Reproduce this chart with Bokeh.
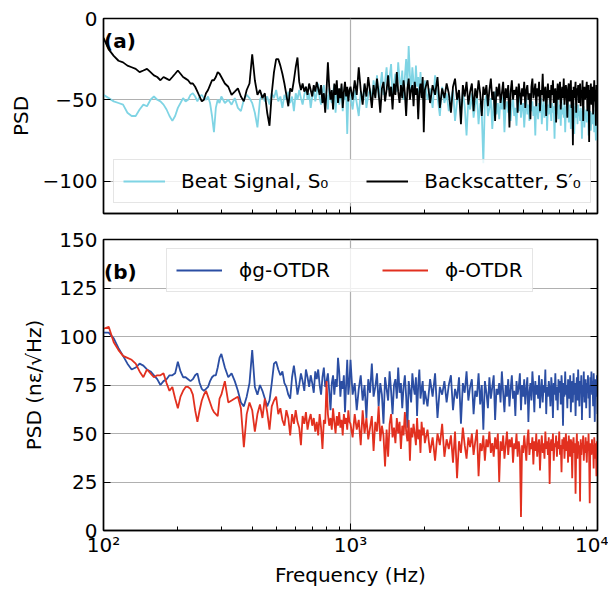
import numpy as np
from bokeh.plotting import figure
from bokeh.layouts import column
from bokeh.models import Range1d, LinearAxis, Legend, LegendItem, Label, FixedTicker
from bokeh.embed import file_html
from bokeh.resources import INLINE

FONT = "DejaVu Sans"

# FFT bin grid, by segment: start (Hz) and bin step (Hz)
seg_starts = [100, 300, 1000, 2000]
seg_steps = [5, 10, 20, 50]

# ---- (a) Beat signal S0 (dB) ----
beat_s1 = [-47, -49, -51, -52, -53, -58, -60, -60, -56, -53, -54, -50, -48, -50, -51, -53, -56, -60, -63, -60,
           -55, -52, -49, -51, -50, -47, -46, -48, -51, -48, -47, -49, -50, -48, -52, -60, -70, -55, -50, -52]
beat_s2 = [-48, -52, -50, -53, -49, -55, -57, -50, -47, -49,
           -52, -58, -67, -50, -47, -51, -48, -53, -46, -49,
           -44, -51, -48, -55, -47, -50, -45, -52, -48, -57,
           -46, -50, -44, -49, -53, -47, -42, -50, -46, -55,
           -48, -43, -51, -46, -40, -49, -53, -45, -41, -50,
           -47, -56, -43, -49, -52, -45, -41, -58, -47, -44,
           -53, -48, -42, -57, -46, -50, -44, -71, -48, -45]
beat_s3 = [-48, -56, -44, -52, -60, -45, -50, -41, -55, -47,
           -43, -51, -38, -46, -35, -49, -42, -33, -47, -39,
           -30, -44, -36, -28, -48, -40, -34, -45, -27, -38,
           -43, -32, -50, -36, -25, -41, -17, -35, -44, -30,
           -39, -47, -29, -42, -36, -48, -33, -45, -40, -52]
beat_s4 = [-38, -50, -43, -55, -35, -48, -60, -42, -52, -46,
           -57, -49, -44, -63, -51, -47, -58, -45, -54, -72,
           -50, -56, -46, -61, -53, -48, -65, -52, -58, -89,
           -51, -47, -60, -55, -49, -68, -53, -45, -59, -52,
           -62, -50, -56, -48, -70, -54, -51, -58, -46, -63,
           -53, -49, -60, -55, -66, -50, -57, -47, -61, -54,
           -52, -67, -56, -49, -59, -53, -63, -48, -57, -51,
           -60, -54, -72, -50, -56, -62, -52, -58, -49, -65,
           -55, -51, -61, -57, -48, -69, -53, -59, -50, -56,
           -63, -52, -58, -54, -74, -51, -60, -56, -49, -62,
           -57, -53, -66, -50, -59, -55, -61, -52, -70, -56,
           -54, -60, -51, -64, -57, -53, -68, -55, -59, -62,
           -52, -71, -58, -54, -61, -56, -65, -53, -60, -57,
           -63, -55, -59, -74, -57, -62, -54, -67, -58, -61,
           -56, -64, -60, -55, -72, -58, -62, -57, -69, -60,
           -58, -65, -61, -56, -70, -59, -63, -75, -60, -66,
           -62]

# ---- (a) Backscatter S0' (dB) ----
back_s1 = [-12, -19, -23, -26, -27, -29, -30, -31, -33, -32, -31, -33, -35, -36, -38, -36, -37, -38, -36, -34,
           -32, -34, -36, -37, -38, -40, -40, -42, -45, -48, -51, -50, -46, -44, -41, -38, -38, -36, -33, -34]
back_s2 = [-36, -40, -42, -47, -45, -43, -48, -51, -44, -40,
           -22, -38, -47, -44, -49, -46, -58, -66, -46, -33,
           -25, -25, -29, -34, -40, -47, -54, -43, -45, -38,
           -30, -24, -39, -44, -40, -45, -42, -47, -40, -44,
           -48, -41, -45, -39, -43, -47, -41, -52, -46, -58,
           -44, -27, -42, -50, -44, -56, -40, -47, -38, -52,
           -43, -49, -40, -55, -45, -39, -48, -42, -51, -44]
back_s3 = [-42, -50, -38, -47, -30, -44, -53, -40, -48, -36,
           -45, -55, -41, -49, -37, -46, -58, -43, -39, -51,
           -44, -35, -48, -42, -56, -40, -47, -33, -45, -52,
           -41, -49, -38, -46, -60, -43, -37, -50, -44, -41,
           -54, -39, -47, -43, -62, -45, -40, -49, -36, -70]
back_s4 = [-44, -38, -52, -41, -47, -36, -55, -43, -49, -40,
           -46, -58, -42, -37, -50, -44, -65, -41, -48, -39,
           -53, -45, -40, -57, -43, -49, -38, -46, -60, -42,
           -47, -41, -54, -44, -37, -50, -45, -63, -42, -48,
           -40, -52, -46, -39, -56, -43, -49, -41, -67, -45,
           -38, -50, -44, -47, -42, -58, -40, -46, -53, -43,
           -48, -39, -55, -44, -41, -50, -46, -62, -42, -37,
           -49, -45, -40, -54, -43, -48, -39, -57, -44, -47,
           -34, -51, -45, -42, -60, -46, -40, -49, -44, -55,
           -41, -47, -38, -52, -45, -43, -64, -48, -40, -50,
           -44, -39, -56, -46, -42, -49, -37, -53, -45, -41,
           -48, -61, -43, -40, -51, -46, -38, -55, -44, -78,
           -42, -49, -45, -39, -58, -43, -47, -41, -52, -46,
           -40, -54, -44, -48, -38, -63, -45, -42, -50, -47,
           -43, -39, -57, -46, -41, -76, -44, -49, -40, -53,
           -45, -42, -59, -47, -38, -51, -44, -66, -41, -48,
           -43]

# ---- (b) phi_g-OTDR (ne/sqrt(Hz)) ----
phig_s1 = [102, 102, 99, 94, 90, 86, 83, 84, 86, 85, 83, 82, 80, 78, 75, 77, 78, 80, 80, 81,
           87, 82, 79, 79, 78, 77, 78, 80, 81, 76, 73, 72, 73, 74, 77, 79, 80, 80, 84, 89]
phig_s2 = [91, 84, 79, 81, 77, 72, 66, 64, 69, 76,
           93, 74, 70, 75, 72, 68, 64, 67, 76, 86,
           87, 83, 80, 82, 76, 74, 70, 68, 79, 85,
           78, 70, 75, 81, 77, 72, 83, 79, 74, 80,
           76, 71, 82, 78, 83, 75, 70, 79, 84, 74,
           77, 81, 72, 62, 76, 80, 70, 78, 74, 89,
           82, 69, 77, 73, 80, 61, 75, 88, 70, 76]
phig_s3 = [88, 70, 76, 62, 73, 80, 67, 75, 58, 78,
           71, 86, 69, 74, 81, 64, 76, 70, 55, 79,
           73, 67, 82, 72, 60, 75, 78, 68, 84, 71,
           76, 63, 74, 80, 69, 53, 77, 72, 66, 81,
           74, 70, 79, 59, 75, 83, 68, 73, 77, 65]
phig_s4 = [72, 64, 78, 69, 81, 58, 74, 70, 77, 66,
           75, 80, 62, 73, 68, 79, 55, 76, 71, 82,
           67, 74, 78, 60, 72, 69, 81, 65, 75, 52,
           77, 71, 63, 79, 68, 74, 80, 57, 73, 70,
           76, 66, 82, 71, 61, 75, 69, 78, 64, 73,
           80, 68, 72, 59, 77, 70, 74, 81, 62, 75,
           69, 78, 65, 73, 79, 56, 71, 76, 67, 82,
           74, 61, 77, 70, 75, 68, 80, 63, 72, 78,
           66, 75, 71, 83, 60, 74, 69, 77, 72, 64,
           79, 73, 58, 76, 70, 81, 67, 74, 62, 78,
           71, 77, 65, 80, 73, 54, 76, 69, 82, 70,
           75, 63, 78, 72, 68, 80, 61, 74, 77, 66,
           81, 70, 76, 59, 73, 79, 67, 83, 71, 64,
           77, 72, 80, 57, 75, 69, 82, 66, 74, 78,
           63, 76, 71, 80, 68, 75, 58, 79, 73, 82,
           70, 77, 64, 81, 72, 56, 78, 74, 69, 80,
           60]

# ---- (b) phi-OTDR (ne/sqrt(Hz)) ----
phi_s1 = [104, 105, 97, 93, 90, 89, 88, 86, 82, 79, 83, 81, 79, 80, 80, 81, 76, 72, 74, 68,
          63, 69, 72, 74, 74, 73, 70, 62, 56, 62, 67, 70, 72, 69, 66, 63, 61, 60, 59, 68]
phi_s2 = [70, 77, 66, 67, 68, 69, 63, 43, 60, 66,
          62, 51, 60, 65, 58, 68, 61, 52, 64, 67,
          69, 60, 63, 57, 54, 62, 58, 49, 60, 55,
          62, 56, 53, 44, 59, 55, 61, 52, 57, 60,
          54, 58, 51, 56, 49, 60, 53, 42, 57, 55,
          77, 60, 54, 58, 52, 63, 56, 50, 59, 54,
          61, 53, 57, 49, 60, 55, 58, 52, 62, 56]
phi_s3 = [55, 48, 60, 52, 57, 44, 62, 50, 58, 47,
          53, 59, 41, 56, 51, 64, 46, 54, 49, 33,
          52, 38, 55, 60, 48, 53, 45, 58, 50, 56,
          42, 54, 49, 61, 51, 46, 57, 36, 53, 48,
          55, 50, 44, 58, 47, 52, 40, 56, 49, 53]
phi_s4 = [45, 52, 40, 48, 36, 50, 44, 55, 38, 47,
          42, 49, 35, 51, 27, 46, 40, 53, 44, 37,
          48, 43, 50, 39, 46, 52, 28, 45, 41, 49,
          36, 47, 43, 51, 40, 45, 38, 48, 42, 50,
          25, 46, 41, 49, 37, 44, 51, 39, 47, 43,
          48, 35, 45, 42, 50, 38, 46, 41, 7, 44,
          40, 49, 43, 36, 47, 52, 39, 45, 42, 48,
          34, 46, 41, 50, 38, 44, 47, 31, 43, 49,
          40, 45, 37, 51, 42, 46, 39, 48, 24, 44,
          47, 41, 50, 36, 45, 43, 49, 38, 46, 42,
          51, 39, 44, 30, 47, 42, 48, 37, 45, 50,
          41, 46, 35, 49, 43, 38, 47, 44, 27, 45,
          48, 40, 45, 19, 42, 50, 37, 46, 41, 44,
          15, 47, 39, 45, 43, 49, 36, 44, 40, 48,
          42, 35, 46, 41, 50, 38, 14, 45, 43, 39,
          47, 40, 44, 32, 48, 42, 37, 45, 28, 46,
          40]

x_major = [100, 1000, 10000]
x_minor = [200, 300, 400, 500, 600, 700, 800, 900, 2000, 3000, 4000, 5000, 6000, 7000, 8000, 9000]
x_labels = {100: "10²", 1000: "10³", 10000: "10⁴"}
ya_ticks = [-100, -50, 0]
ya_labels = {-100: "−100", -50: "−50", 0: "0"}
yb_ticks = [0, 25, 50, 75, 100, 125, 150]


def series(segs):
    f = np.concatenate([s + d * np.arange(len(v)) for s, d, v in zip(seg_starts, seg_steps, segs)])
    y = np.concatenate([np.asarray(v, dtype=float) for v in segs])
    return f, y


C_BEAT = "#7fd4e4"
C_BACK = "#000000"
C_PHIG = "#2b4ea3"
C_PHI = "#e2301f"
GRID = "#b0b0b0"
LW = 1.8

xr = Range1d(100, 10000)


def blank(ticks):
    return {t: "" for t in ticks}


def style(p, yticks, ylabel, show_x_labels, ylabels=None, ylab_standoff=7):
    p.outline_line_color = "black"
    p.outline_line_width = 1.4
    p.background_fill_color = "white"
    p.border_fill_color = "white"
    p.xaxis.ticker = FixedTicker(ticks=x_major, minor_ticks=x_minor)
    p.xaxis.major_tick_in = 7
    p.xaxis.major_tick_out = 0
    p.xaxis.minor_tick_in = 4
    p.xaxis.minor_tick_out = 0
    p.xaxis.axis_line_color = "black"
    p.xaxis.axis_line_width = 1.4
    p.xaxis.major_tick_line_color = "black"
    p.xaxis.minor_tick_line_color = "black"
    p.xaxis.major_label_text_font = FONT
    p.xaxis.axis_label_text_font = FONT
    p.xaxis.axis_label_text_font_style = "normal"
    if show_x_labels:
        p.xaxis.major_label_overrides = x_labels
        p.xaxis.major_label_text_font_size = "20px"
        p.xaxis.major_label_text_color = "black"
        p.xaxis.major_label_standoff = 2
        p.xaxis.axis_label = "Frequency (Hz)"
        p.xaxis.axis_label_text_font_size = "20px"
        p.xaxis.axis_label_text_color = "black"
        p.xaxis.axis_label_standoff = 3
    else:
        p.xaxis.major_label_overrides = blank(x_major)
        p.xaxis.major_label_text_font_size = "0px"
        p.xaxis.major_label_standoff = 0
    p.yaxis.ticker = FixedTicker(ticks=yticks)
    if ylabels:
        p.yaxis.major_label_overrides = ylabels
    p.yaxis.major_tick_in = 7
    p.yaxis.major_tick_out = 0
    p.yaxis.major_tick_line_color = "black"
    p.yaxis.minor_tick_line_color = None
    p.yaxis.axis_line_color = "black"
    p.yaxis.axis_line_width = 1.4
    p.yaxis.major_label_text_font = FONT
    p.yaxis.major_label_text_font_size = "20px"
    p.yaxis.major_label_text_color = "black"
    p.yaxis.major_label_standoff = 6
    p.yaxis.axis_label = ylabel
    p.yaxis.axis_label_text_font = FONT
    p.yaxis.axis_label_text_font_size = "20px"
    p.yaxis.axis_label_text_font_style = "normal"
    p.yaxis.axis_label_text_color = "black"
    p.yaxis.axis_label_standoff = ylab_standoff
    ra = LinearAxis(ticker=FixedTicker(ticks=yticks), major_label_overrides=blank(yticks),
                    major_label_text_font_size="0px",
                    major_label_standoff=0, major_tick_in=7, major_tick_out=0,
                    major_tick_line_color="black",
                    minor_tick_line_color=None, axis_line_color="black", axis_line_width=1.4)
    p.add_layout(ra, "right")
    p.xgrid.ticker = FixedTicker(ticks=[1000])
    p.xgrid.grid_line_color = GRID
    p.xgrid.grid_line_width = 1.2
    p.ygrid.grid_line_color = GRID
    p.ygrid.grid_line_width = 1.2


# ---------- panel (a) ----------
p1 = figure(width=608, height=223, x_axis_type="log", x_range=xr, y_range=Range1d(-120, 0),
            output_backend="svg", toolbar_location=None,
            min_border_left=103, min_border_right=11, min_border_top=18, min_border_bottom=10)
style(p1, ya_ticks, "PSD", False, ya_labels)
p1.ygrid.ticker = FixedTicker(ticks=[-100, -50])

fb, yb = series([beat_s1, beat_s2, beat_s3, beat_s4])
fk, yk = series([back_s1, back_s2, back_s3, back_s4])
r_beat = p1.line(fb, yb, line_color=C_BEAT, line_width=LW)
r_back = p1.line(fk, yk, line_color=C_BACK, line_width=LW)

leg1 = Legend(items=[LegendItem(label="Beat Signal, S₀", renderers=[r_beat]),
                     LegendItem(label="Backscatter, S′₀", renderers=[r_back])],
              location=(10, 10), orientation="horizontal",
              label_text_font=FONT, label_text_font_size="20px", label_text_color="black",
              glyph_width=42, glyph_height=20, label_standoff=16, spacing=38,
              padding=9, margin=0, border_line_color="#cccccc", border_line_width=1,
              background_fill_color="white", background_fill_alpha=0.8)
p1.add_layout(leg1)
p1.add_layout(Label(x=100.5, y=-14, text="(a)", text_font=FONT, text_font_size="20px",
                    text_font_style="bold", text_baseline="middle", text_color="black"))

# ---------- panel (b) ----------
p2 = figure(width=608, height=366, x_axis_type="log", x_range=xr, y_range=Range1d(0, 150),
            output_backend="svg", toolbar_location=None,
            min_border_left=103, min_border_right=11, min_border_top=16, min_border_bottom=57)
style(p2, yb_ticks, "PSD (nε/√Hz)", True, ylab_standoff=10)
p2.ygrid.ticker = FixedTicker(ticks=[25, 50, 75, 100, 125])

fg, yg = series([phig_s1, phig_s2, phig_s3, phig_s4])
fp, yp = series([phi_s1, phi_s2, phi_s3, phi_s4])
r_phig = p2.line(fg, yg, line_color=C_PHIG, line_width=LW)
r_phi = p2.line(fp, yp, line_color=C_PHI, line_width=LW)

leg2 = Legend(items=[LegendItem(label="ϕg-OTDR", renderers=[r_phig]),
                     LegendItem(label="ϕ-OTDR", renderers=[r_phi])],
              location=(63, 238), orientation="horizontal",
              label_text_font=FONT, label_text_font_size="20px", label_text_color="black",
              glyph_width=46, glyph_height=20, label_standoff=17, spacing=52,
              padding=9, margin=0, border_line_color="#cccccc", border_line_width=1,
              background_fill_color="white", background_fill_alpha=0.8)
p2.add_layout(leg2)
p2.add_layout(Label(x=100.5, y=133, text="(b)", text_font=FONT, text_font_size="20px",
                    text_font_style="bold", text_baseline="middle", text_color="black"))

layout = column(p1, p2)
open("out.html", "w").write(file_html(layout, INLINE))
